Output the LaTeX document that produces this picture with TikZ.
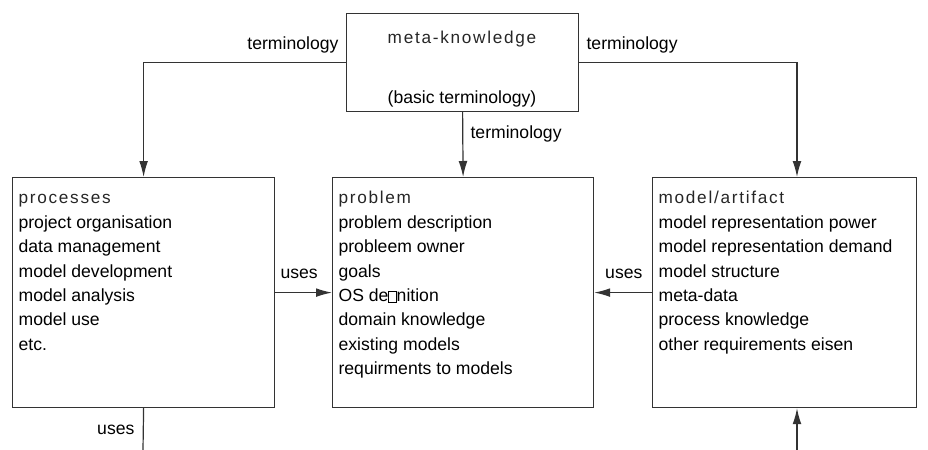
\documentclass[tikz,border=0pt]{standalone}
\usepackage{fontspec}
\setmainfont{Liberation Sans}
\usetikzlibrary{arrows.meta,positioning}
\newcommand{\brokenfi}{{\setlength{\fboxsep}{0pt}\setlength{\fboxrule}{0.3pt}\fbox{\rule{0pt}{0.55em}\hspace{0.4em}}}}
\begin{document}
\begin{tikzpicture}[x=0.5pt,y=-0.5pt,
  line width=0.6pt,
  box/.style={draw=black!80,rectangle,anchor=north west,inner sep=0pt},
  head/.style={anchor=base west,inner sep=0pt,text=black!85,font=\fontsize{8.6}{10}\selectfont\addfontfeature{LetterSpace=10}},
  list/.style={anchor=north west,align=left,inner sep=0pt,font=\fontsize{8.8}{12.2}\selectfont},
  lbl/.style={inner sep=0pt,font=\fontsize{8.8}{10}\selectfont},
  arr/.style={draw=black!80,-{Latex[length=8pt,width=4.4pt]}},
  con/.style={draw=black!80}]
  \useasboundingbox (0,0) rectangle (928,450);

  % boxes
  \node[box,minimum width=116pt,minimum height=49pt] (meta) at (346,13) {};
  \node[box,minimum width=131pt,minimum height=115pt] (proc) at (12,177) {};
  \node[box,minimum width=130.5pt,minimum height=115pt] (prob) at (332,177) {};
  \node[box,minimum width=132pt,minimum height=115pt] (model) at (652,177) {};

  % free ends below
  \coordinate (pdown) at (143,450);
  \coordinate (mdown) at (797,450);

  % texts
  \node[head,anchor=base] (metahead) at (462,43) {meta-knowledge};
  \node[lbl,anchor=base] (metasub) at (462,103) {(basic terminology)};

  \node[head] (prochead) at (18,203) {processes};
  \node[list] (proclist) at (18,215) {project organisation\\ data management\\
    model development\\ model analysis\\ model use\\ etc.};

  \node[head] (probhead) at (338,203) {problem};
  \node[list] (problist) at (338,215) {problem description\\ probleem owner\\
    goals\\ OS de\brokenfi nition\\ domain knowledge\\ existing models\\
    requirments to models};

  \node[head] (modelhead) at (658,203) {model/artifact};
  \node[list] (modellist) at (658,215) {model representation power\\
    model representation demand\\ model structure\\ meta-data\\
    process knowledge\\ other requirements eisen};

  % connectors
  \draw[arr] (meta.west) -| (proc.north);
  \draw[arr] (meta.east) -| (model.north -| mdown);
  \draw[arr] (meta.south) -- (prob.north);
  \draw[arr] (proc.east) -- (prob.west);
  \draw[arr] (model.west) -- (prob.east);
  \draw[con] (proc.south) -- (pdown);
  \draw[arr] (mdown) -- (model.south -| mdown);

  % labels
  \node[lbl,anchor=base east] (t1) at (339,49) {terminology};
  \node[lbl,anchor=base west] (t2) at (586,49) {terminology};
  \node[lbl,anchor=base west] (t3) at (470,138) {terminology};
  \node[lbl,anchor=base west] (u1) at (280,278) {uses};
  \node[lbl,anchor=base east] (u2) at (643,278) {uses};
  \node[lbl,anchor=base east] (u3) at (135,434) {uses};
\end{tikzpicture}
\end{document}
